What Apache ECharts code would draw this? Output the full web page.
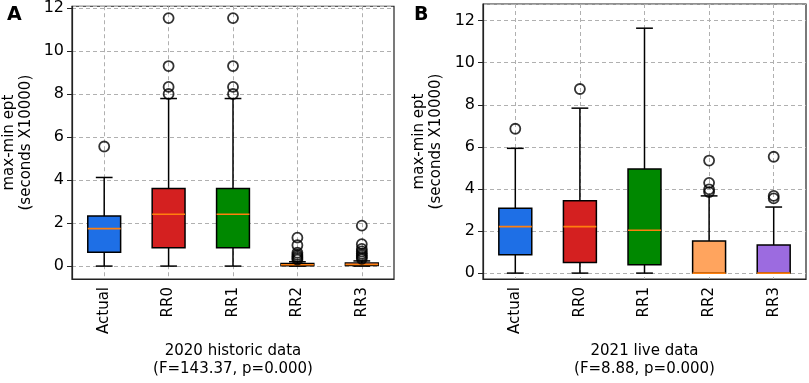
<!DOCTYPE html>
<html>
<head>
<meta charset="utf-8">
<script src="https://cdn.jsdelivr.net/npm/echarts@6/dist/echarts.min.js"></script>
<style>
  html, body { margin: 0; padding: 0; background: #fff; }
  #chart { width: 809px; height: 383px; }
</style>
</head>
<body>
<div id="chart"></div>
<script>
// categories shared by both panels
const categories = ['Actual', 'RR0', 'RR1', 'RR2', 'RR3']
const yTicks = [0, 2, 4, 6, 8, 10, 12]

// [min, q1, median, q3, max] per category
const box2020 = [
  [0, 0.64, 1.74, 2.33, 4.12],
  [0, 0.85, 2.41, 3.61, 7.79],
  [0, 0.85, 2.41, 3.61, 7.79],
  [0, 0.02, 0.06, 0.12, 0.2],
  [0, 0.03, 0.08, 0.14, 0.24]
]
// outliers: [category index, value]
const fliers2020 = [
  [0, 5.56],
  [1, 11.53], [1, 9.3], [1, 8.33], [1, 8.0],
  [2, 11.53], [2, 9.3], [2, 8.33], [2, 8.0],
  [3, 1.32], [3, 0.97], [3, 0.62], [3, 0.52], [3, 0.44], [3, 0.37], [3, 0.3],
  [4, 1.88], [4, 1.02], [4, 0.8], [4, 0.68], [4, 0.58], [4, 0.5], [4, 0.42], [4, 0.34]
]

const box2021 = [
  [0, 0.87, 2.21, 3.08, 5.93],
  [0, 0.51, 2.21, 3.44, 7.84],
  [0, 0.4, 2.04, 4.95, 11.64],
  [0, 0, 0, 1.53, 3.67],
  [0, 0, 0, 1.34, 3.14]
]
const fliers2021 = [
  [0, 6.86],
  [1, 8.75],
  [3, 5.35], [3, 4.29], [3, 3.98], [3, 3.85],
  [4, 5.53], [4, 3.67], [4, 3.55]
]

const boxColors = ['#1e6fe6', '#d42020', '#008800', '#ffa45e', '#9c6be0']
const font = 'DejaVu Sans'

function line(x1, y1, x2, y2, color, w) {
  return { type: 'line', shape: { x1, y1, x2, y2 }, style: { stroke: color, lineWidth: w } }
}

function renderBox(params, api) {
  const c = api.value(0)
  const band = api.size([1, 0])[0]
  const half = band * 0.255
  const cap = band * 0.13
  const x = api.coord([c, 0])[0]
  const y = k => api.coord([c, api.value(k)])[1]
  const yMin = y(1), yQ1 = y(2), yMed = y(3), yQ3 = y(4), yMax = y(5)
  return {
    type: 'group',
    children: [
      line(x, yMin, x, yQ1, '#000', 1.5),
      line(x, yQ3, x, yMax, '#000', 1.5),
      line(x - cap, yMin, x + cap, yMin, '#000', 1.5),
      line(x - cap, yMax, x + cap, yMax, '#000', 1.5),
      {
        type: 'rect',
        shape: { x: x - half, y: yQ3, width: half * 2, height: yQ1 - yQ3 },
        style: { fill: boxColors[c], stroke: '#000', lineWidth: 1.5 }
      },
      line(x - half, yMed, x + half, yMed, '#ff7f0e', 1.6)
    ]
  }
}

function xAxisFor(idx, name) {
  return {
    type: 'category',
    gridIndex: idx,
    data: categories,
    name: name,
    nameLocation: 'middle',
    nameGap: 63,
    nameTextStyle: { fontFamily: font, fontSize: 15, color: '#000', lineHeight: 18 },
    axisLine: { onZero: false, lineStyle: { color: '#222', width: 1.2 } },
    axisTick: { alignWithLabel: true, length: 5, lineStyle: { color: '#222' } },
    axisLabel: { rotate: 90, margin: 8, fontFamily: font, fontSize: 15, color: '#000' },
    splitLine: { show: true, alignWithLabel: true, lineStyle: { color: '#b0b0b0', type: [4, 3] } }
  }
}

// no interval here: min is not a tick, so the ticks are left to splitNumber
function yAxisFor(idx, min, max, gap) {
  return {
    type: 'value',
    gridIndex: idx,
    min: min,
    max: max,
    splitNumber: 6,
    name: 'max-min ept\n(seconds X10000)',
    nameLocation: 'middle',
    nameGap: gap,
    nameTextStyle: { fontFamily: font, fontSize: 15, color: '#000', lineHeight: 17 },
    axisLine: { show: true, lineStyle: { color: '#222', width: 1.2 } },
    axisTick: { show: true, length: 5, lineStyle: { color: '#222' } },
    axisLabel: {
      margin: 8, fontFamily: font, fontSize: 16, color: '#000',
      showMinLabel: false, showMaxLabel: false,
      formatter: v => (yTicks.indexOf(v) >= 0 ? String(v) : '')
    },
    splitLine: { show: true, lineStyle: { color: '#b0b0b0', type: [4, 3] } }
  }
}

const chart = echarts.init(document.getElementById('chart'), null, { renderer: 'canvas' })
chart.setOption({
  animation: false,
  title: [
    { text: 'A', left: 2, top: 1, textStyle: { fontFamily: font, fontSize: 19, fontWeight: 'bold', color: '#000' } },
    { text: 'B', left: 409, top: 1, textStyle: { fontFamily: font, fontSize: 19, fontWeight: 'bold', color: '#000' } }
  ],
  grid: [
    { left: 71, width: 323, top: 5, height: 279, show: true, borderColor: '#222', borderWidth: 1.2 },
    { left: 483, width: 323, top: 4, height: 280, show: true, borderColor: '#222', borderWidth: 1.2 }
  ],
  xAxis: [
    xAxisFor(0, '2020 historic data\n(F=143.37, p=0.000)'),
    xAxisFor(1, '2021 live data\n(F=8.88, p=0.000)')
  ],
  yAxis: [
    yAxisFor(0, -0.6, 12.08, 37),
    yAxisFor(1, -0.28, 12.79, 38)
  ],
  series: [
    { type: 'custom', xAxisIndex: 0, yAxisIndex: 0, renderItem: renderBox, data: box2020.map((b, i) => [i].concat(b)) },
    { type: 'custom', xAxisIndex: 1, yAxisIndex: 1, renderItem: renderBox, data: box2021.map((b, i) => [i].concat(b)) },
    {
      type: 'scatter', xAxisIndex: 0, yAxisIndex: 0, data: fliers2020, symbol: 'circle', symbolSize: 10,
      itemStyle: { color: 'rgba(0,0,0,0)', borderColor: '#000', borderWidth: 1.8 }, z: 5
    },
    {
      type: 'scatter', xAxisIndex: 1, yAxisIndex: 1, data: fliers2021, symbol: 'circle', symbolSize: 10,
      itemStyle: { color: 'rgba(0,0,0,0)', borderColor: '#000', borderWidth: 1.8 }, z: 5
    }
  ]
})
</script>
</body>
</html>
